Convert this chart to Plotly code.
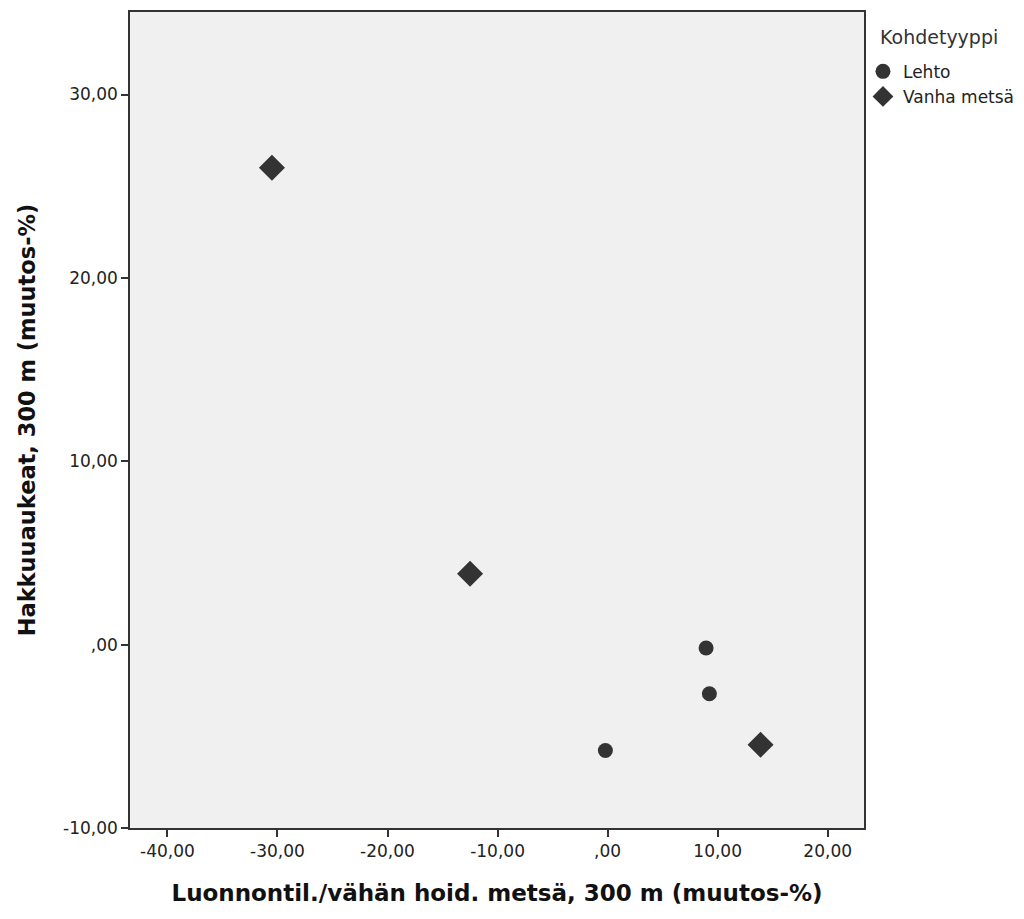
import plotly.graph_objects as go

# Data
lehto_x = [8.95, 9.25, -0.2]
lehto_y = [-0.18, -2.68, -5.77]
vanha_x = [-30.5, -12.5, 13.9]
vanha_y = [26.0, 3.86, -5.46]

x_tickvals = [-40, -30, -20, -10, 0, 10, 20]
x_ticktext = ["-40,00", "-30,00", "-20,00", "-10,00", ",00", "10,00", "20,00"]
y_tickvals = [-10, 0, 10, 20, 30]
y_ticktext = ["-10,00", ",00", "10,00", "20,00", "30,00"]

mc = "#333333"
fig = go.Figure()
fig.add_trace(go.Scatter(x=lehto_x, y=lehto_y, mode="markers", name="Lehto",
                         marker=dict(symbol="circle", size=15, color=mc)))
fig.add_trace(go.Scatter(x=vanha_x, y=vanha_y, mode="markers", name="Vanha metsä",
                         marker=dict(symbol="diamond", size=20, color=mc)))

font_family = "DejaVu Sans, Verdana, sans-serif"
fig.update_layout(
    width=1024, height=919,
    margin=dict(l=122, r=168, t=2, b=99),
    paper_bgcolor="white", plot_bgcolor="#F0F0F0",
    font=dict(family=font_family, color="#222222", size=17),
    showlegend=True,
    legend=dict(x=0.9986, xanchor="left", y=0.9488, yanchor="top",
                font=dict(size=17, color="#222222"),
                bgcolor="rgba(0,0,0,0)", itemsizing="trace",
                tracegroupgap=0),
    annotations=[dict(text="Kohdetyyppi", xref="paper", yref="paper",
                      x=1.0195, y=0.9694, xanchor="left", yanchor="middle",
                      showarrow=False, font=dict(size=19, color="#333333"))],
)
fig.update_xaxes(range=[-43.4, 23.3], tickvals=x_tickvals, ticktext=x_ticktext,
                 tickfont=dict(size=17, color="#222222"),
                 ticks="outside", ticklen=7, tickwidth=1.5, tickcolor="#333333",
                 showgrid=False, zeroline=False, showline=True, linecolor="#333333",
                 linewidth=1.5, mirror=True,
                 title=dict(text="<b>Luonnontil./vähän hoid. metsä, 300 m (muutos-%)</b>",
                            font=dict(size=23, color="#111111"), standoff=25))
fig.update_yaxes(range=[-10, 34.5], tickvals=y_tickvals, ticktext=y_ticktext,
                 tickfont=dict(size=17, color="#222222"),
                 ticks="outside", ticklen=7, tickwidth=1.5, tickcolor="#333333",
                 showgrid=False, zeroline=False, showline=True, linecolor="#333333",
                 linewidth=1.5, mirror=True,
                 title=dict(text="<b>Hakkuuaukeat, 300 m (muutos-%)</b>",
                            font=dict(size=22.5, color="#111111"), standoff=21))

fig.write_html("out.html")
